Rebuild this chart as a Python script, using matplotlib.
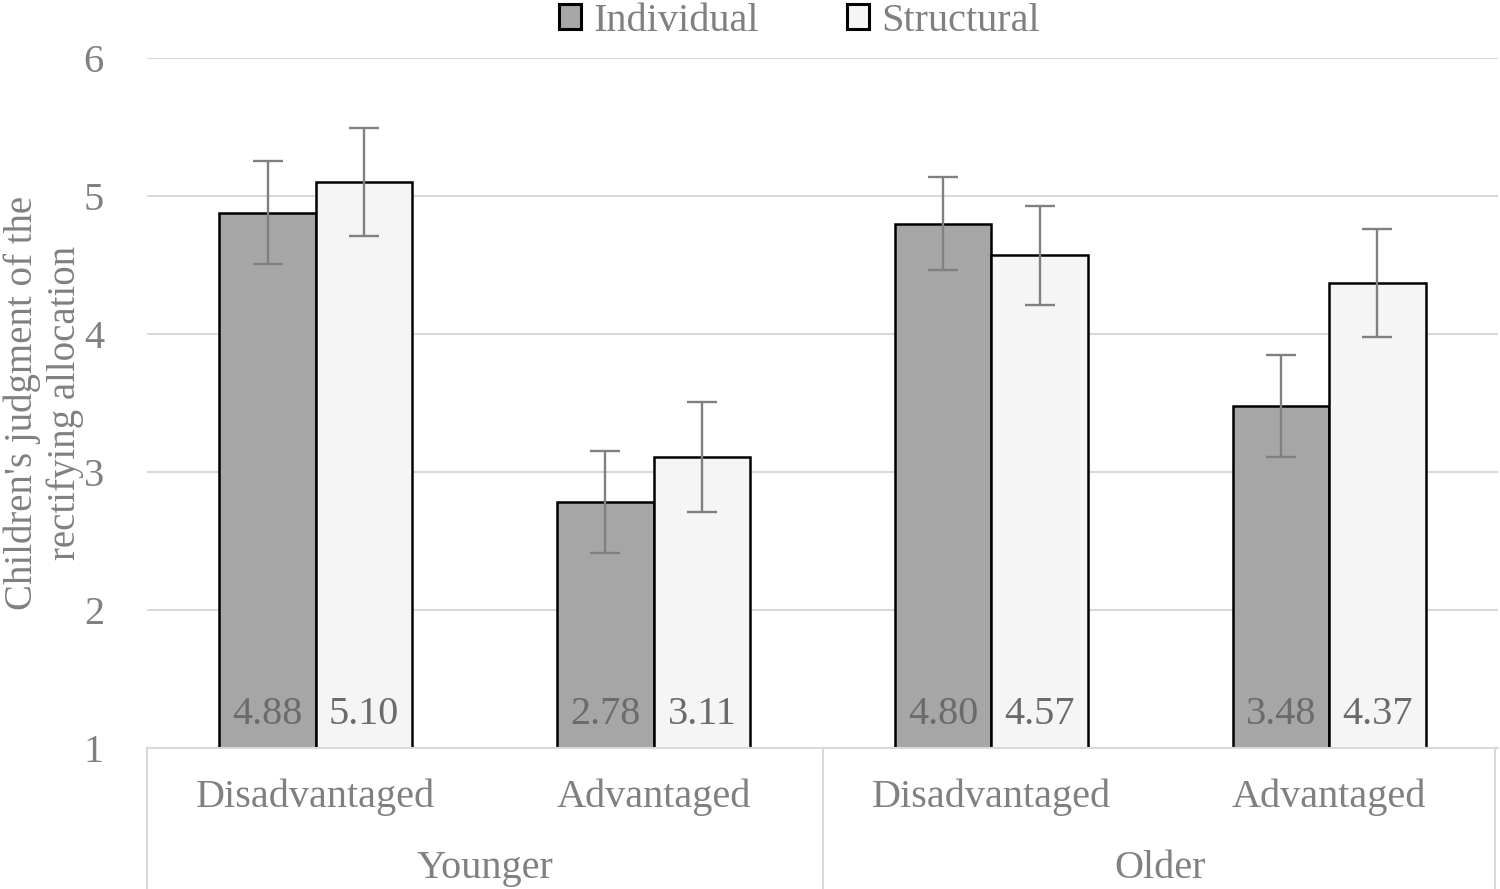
import numpy as np
import matplotlib.pyplot as plt
from matplotlib.patches import Patch

plt.rcParams['font.family'] = ['Liberation Serif', 'DejaVu Serif']

conditions = ['Disadvantaged', 'Advantaged', 'Disadvantaged', 'Advantaged']
age_groups = ['Younger', 'Older']
individual = [4.88, 2.78, 4.80, 3.48]
structural = [5.10, 3.11, 4.57, 4.37]
individual_err = [0.375, 0.37, 0.34, 0.37]
structural_err = [0.39, 0.40, 0.36, 0.39]

gray_txt = '#808080'
fs = 29

fig = plt.figure(figsize=(15, 8.89), dpi=100)
ax = fig.add_axes([0.098, 0.1586, 0.9007, 0.7762])

x = np.arange(len(conditions))
w = 0.286
ax.bar(x - w / 2, np.array(individual) - 1, w, bottom=1, color='#a6a6a6',
       edgecolor='black', linewidth=1.8, zorder=2)
ax.bar(x + w / 2, np.array(structural) - 1, w, bottom=1, color='#f5f5f5',
       edgecolor='black', linewidth=1.8, zorder=2)
ax.errorbar(x - w / 2, individual, yerr=individual_err, fmt='none', ecolor=gray_txt,
            elinewidth=1.7, capsize=11, capthick=1.7, zorder=3)
ax.errorbar(x + w / 2, structural, yerr=structural_err, fmt='none', ecolor=gray_txt,
            elinewidth=1.7, capsize=11, capthick=1.7, zorder=3)

# value labels at the bottom of bars
for xi, v in zip(x - w / 2, individual):
    ax.text(xi, 1.24, f'{v:.2f}', ha='center', va='center', fontsize=fs, color='#6b6b6b', zorder=4)
for xi, v in zip(x + w / 2, structural):
    ax.text(xi, 1.24, f'{v:.2f}', ha='center', va='center', fontsize=fs, color='#6b6b6b', zorder=4)

ax.set_xlim(-0.5, 3.5)
ax.set_ylim(1, 6)
ax.set_yticks([1, 2, 3, 4, 5, 6])
ax.tick_params(axis='y', length=0, labelsize=fs, labelcolor=gray_txt, pad=31)
ax.set_xticks([])
ax.yaxis.grid(True, color='#d9d9d9', linewidth=1.5, zorder=0)
ax.set_axisbelow(True)
for s in ['top', 'right', 'left']:
    ax.spines[s].set_visible(False)
ax.spines['bottom'].set_color('#d9d9d9')
ax.spines['bottom'].set_linewidth(1.5)

ax.set_ylabel("Children's judgment of the\nrectifying allocation", fontsize=28,
              color=gray_txt, linespacing=1.2, va='center')
ax.yaxis.set_label_coords(-0.0765, 0.5)

# category axis table
trans = ax.get_xaxis_transform()
for xi, lab in zip(x, conditions):
    ax.text(xi, -0.072, lab, transform=trans, ha='center', va='center',
            fontsize=fs, color=gray_txt, clip_on=False)
for i, g in enumerate(age_groups):
    ax.text(2 * i + 0.5, -0.174, g, transform=trans, ha='center', va='center',
            fontsize=fs, color=gray_txt, clip_on=False)
for xs in [-0.5, 1.5, 3.49]:
    ax.plot([xs, xs], [0, -0.21], transform=trans, color='#d9d9d9',
            linewidth=1.5, clip_on=False)

handles = [Patch(facecolor='#a6a6a6', edgecolor='black', linewidth=2.2, label='Individual'),
           Patch(facecolor='#f5f5f5', edgecolor='black', linewidth=2.2, label='Structural')]
fig.legend(handles=handles, loc='center', bbox_to_anchor=(0.533, 0.976), ncol=2,
           frameon=False, fontsize=fs, labelcolor=gray_txt, handlelength=0.55,
           handleheight=0.55, handletextpad=0.3, columnspacing=2.2)

fig.savefig('out.png', dpi=100)
